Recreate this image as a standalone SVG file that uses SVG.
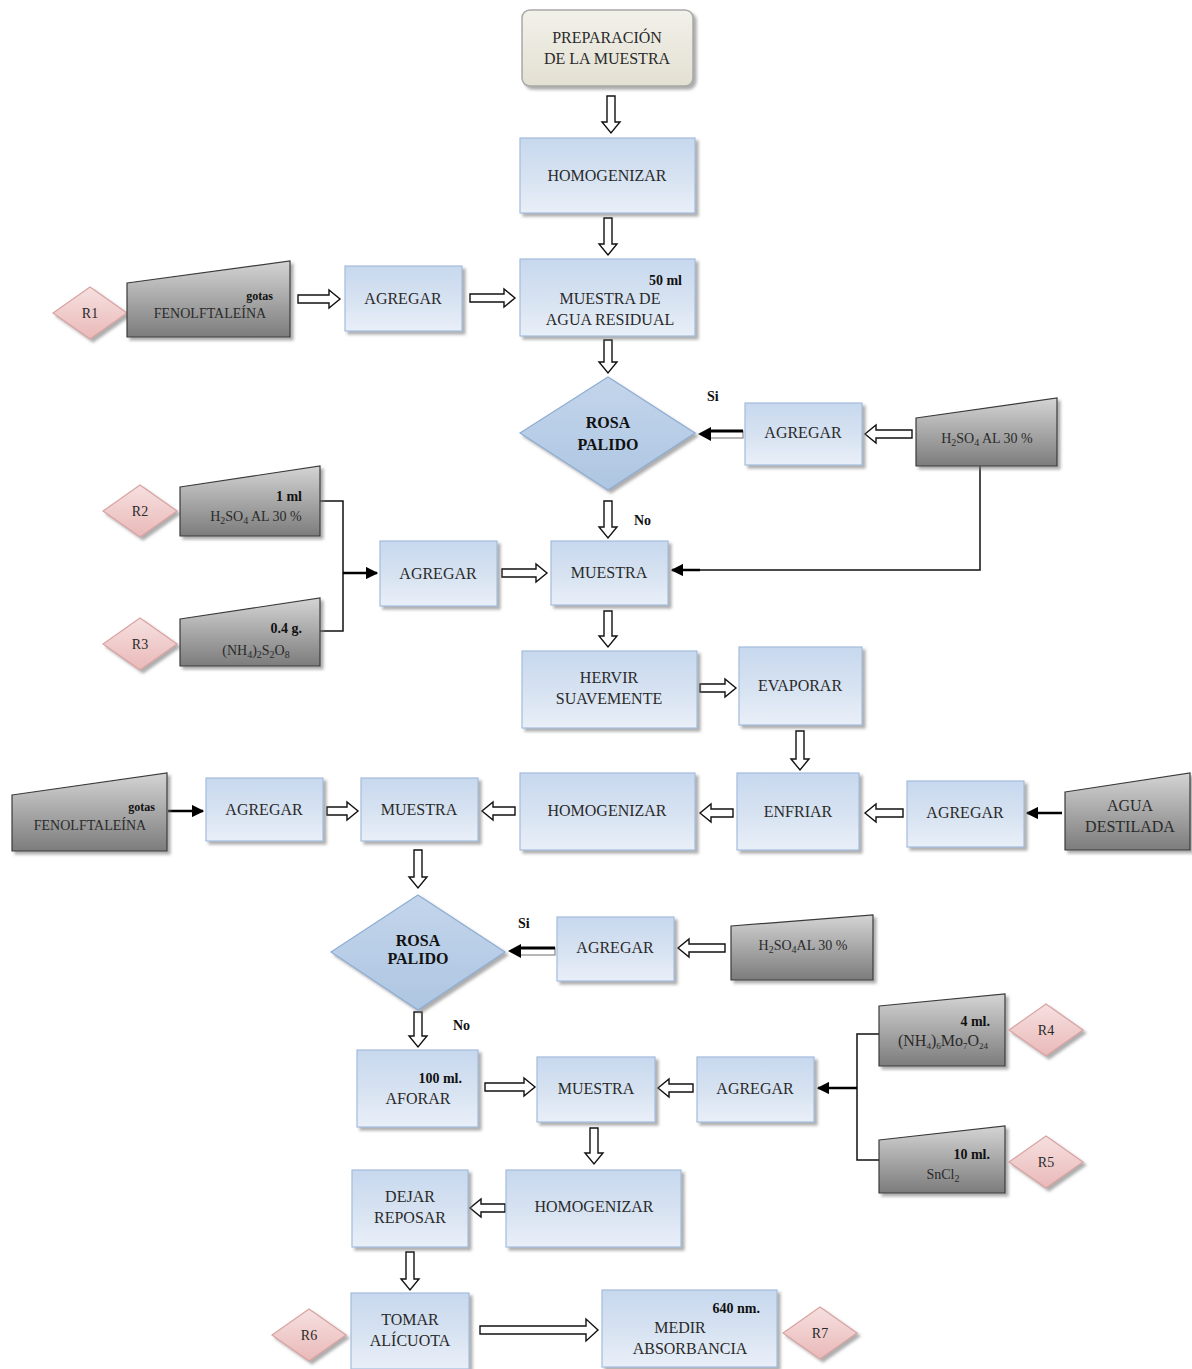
<svg xmlns="http://www.w3.org/2000/svg" width="1192" height="1369" viewBox="0 0 1192 1369">
<defs>
<linearGradient id="gBlue" x1="0" y1="0" x2="0" y2="1"><stop offset="0" stop-color="#c7d8ee"/><stop offset="0.5" stop-color="#d6e2f1"/><stop offset="1" stop-color="#e9eff8"/></linearGradient>
<linearGradient id="gGray" x1="0" y1="0" x2="0" y2="1"><stop offset="0" stop-color="#d4d4d4"/><stop offset="1" stop-color="#7c7c7c"/></linearGradient>
<linearGradient id="gPink" x1="0" y1="0" x2="0" y2="1"><stop offset="0" stop-color="#f6e0e0"/><stop offset="1" stop-color="#e9b9b8"/></linearGradient>
<linearGradient id="gDia" x1="0" y1="0" x2="0" y2="1"><stop offset="0" stop-color="#c3d5eb"/><stop offset="1" stop-color="#aec6e2"/></linearGradient>
<linearGradient id="gPrep" x1="0" y1="0" x2="0" y2="1"><stop offset="0" stop-color="#f2f1ea"/><stop offset="1" stop-color="#e3e0d2"/></linearGradient>
<filter id="sh" x="-10%" y="-10%" width="130%" height="140%"><feDropShadow dx="3" dy="3" stdDeviation="1.5" flood-color="#777" flood-opacity="0.6"/></filter>
<marker id="ah" viewBox="0 0 10 10" refX="9" refY="5" markerWidth="5" markerHeight="5" orient="auto"><path d="M0,0 L10,5 L0,10 Z" fill="#000"/></marker>
<style>
.box{fill:url(#gBlue);stroke:#a3bcdc;stroke-width:1.2;filter:url(#sh)}
.prep{fill:url(#gPrep);stroke:#a8a8a8;stroke-width:1.5;filter:url(#sh)}
.trap{fill:url(#gGray);stroke:#3a3a3a;stroke-width:1.2;filter:url(#sh)}
.rd{fill:url(#gPink);stroke:#d9a3a2;stroke-width:1.2;filter:url(#sh)}
.dia{fill:url(#gDia);stroke:#8fadd4;stroke-width:1.2;filter:url(#sh)}
.ha{fill:#fff;stroke:#111;stroke-width:1.4;stroke-linejoin:miter}
.ln{fill:none;stroke:#111;stroke-width:1.5}
.la{fill:none;stroke:#000;stroke-width:2.5;marker-end:url(#ah)}
text{font-family:"Liberation Serif","Times New Roman",serif;fill:#2a2a2a;font-size:16px}
.c{text-anchor:middle}
.e{text-anchor:end}
.b{font-weight:bold;fill:#111}
.s{font-size:14px}
.sm{font-size:12px}
</style>
</defs>

<g id="connectors">
<path class="ha" d="M607,96 L615,96 L615,122 L620,122 L611,133 L602,122 L607,122 Z"/>
<path class="ha" d="M604,218 L612,218 L612,244 L617,244 L608,255 L599,244 L604,244 Z"/>
<path class="ha" d="M604,340 L612,340 L612,362 L617,362 L608,373 L599,362 L604,362 Z"/>
<path class="ha" d="M604,501 L612,501 L612,527 L617,527 L608,538 L599,527 L604,527 Z"/>
<path class="ha" d="M604,611 L612,611 L612,636 L617,636 L608,647 L599,636 L604,636 Z"/>
<path class="ha" d="M796,731 L804,731 L804,759 L809,759 L800,770 L791,759 L796,759 Z"/>
<path class="ha" d="M414,850 L422,850 L422,877 L427,877 L418,888 L409,877 L414,877 Z"/>
<path class="ha" d="M414,1012 L422,1012 L422,1036 L427,1036 L418,1047 L409,1036 L414,1036 Z"/>
<path class="ha" d="M590,1128 L598,1128 L598,1153 L603,1153 L594,1164 L585,1153 L590,1153 Z"/>
<path class="ha" d="M406,1252 L414,1252 L414,1279 L419,1279 L410,1290 L401,1279 L406,1279 Z"/>
<path class="ha" d="M298,295 L329,295 L329,290 L340,299 L329,308 L329,303 L298,303 Z"/>
<path class="ha" d="M470,294 L504,294 L504,289 L515,298 L504,307 L504,302 L470,302 Z"/>
<path class="ha" d="M502,569 L536,569 L536,564 L547,573 L536,582 L536,577 L502,577 Z"/>
<path class="ha" d="M700,684 L725,684 L725,679 L736,688 L725,697 L725,692 L700,692 Z"/>
<path class="ha" d="M327,807 L347,807 L347,802 L358,811 L347,820 L347,815 L327,815 Z"/>
<path class="ha" d="M485,1083 L524,1083 L524,1078 L535,1087 L524,1096 L524,1091 L485,1091 Z"/>
<path class="ha" d="M480,1326 L586,1326 L586,1319 L598,1330 L586,1341 L586,1334 L480,1334 Z"/>
<path class="ha" d="M912,430 L876,430 L876,425 L865,434 L876,443 L876,438 L912,438 Z"/>
<path class="ha" d="M733,809 L711,809 L711,804 L700,813 L711,822 L711,817 L733,817 Z"/>
<path class="ha" d="M903,809 L876,809 L876,804 L865,813 L876,822 L876,817 L903,817 Z"/>
<path class="ha" d="M515,807 L493,807 L493,802 L482,811 L493,820 L493,815 L515,815 Z"/>
<path class="ha" d="M725,944 L689,944 L689,939 L678,948 L689,957 L689,952 L725,952 Z"/>
<path class="ha" d="M693,1084 L669,1084 L669,1079 L658,1088 L669,1097 L669,1092 L693,1092 Z"/>
<path class="ha" d="M505,1204 L481,1204 L481,1199 L470,1208 L481,1217 L481,1212 L505,1212 Z"/>
<rect x="710" y="431" width="33" height="7" fill="#fff" stroke="#888" stroke-width="1.2"/>
<line x1="710" y1="431" x2="743" y2="431" stroke="#000" stroke-width="3"/>
<path d="M698,434 L711,427 L711,441 Z" fill="#000"/>
<rect x="520" y="948" width="35" height="7" fill="#fff" stroke="#888" stroke-width="1.2"/>
<line x1="520" y1="948" x2="555" y2="948" stroke="#000" stroke-width="3"/>
<path d="M508,951 L521,944 L521,958 Z" fill="#000"/>
<polyline class="ln" points="980,466 980,570 680,570"/>
<line class="la" x1="700" y1="570" x2="672" y2="570"/>
<polyline class="ln" points="320,501 343,501 343,631 320,631"/>
<line class="la" x1="343" y1="573" x2="377" y2="573"/>
<line class="la" x1="168" y1="811" x2="203" y2="811"/>
<line class="la" x1="1062" y1="813" x2="1027" y2="813"/>
<polyline class="ln" points="880,1034 857,1034 857,1160 880,1160"/>
<line class="la" x1="857" y1="1088" x2="818" y2="1088"/>
</g>

<g id="n_prep"><rect class="prep" x="522" y="10" width="171" height="76" rx="8"/><text class="c" x="607" y="43">PREPARACIÓN</text><text class="c" x="607" y="64">DE LA MUESTRA</text></g>
<g id="n_homog1"><rect class="box" x="520" y="138" width="175" height="75"/><text class="c" x="607" y="181">HOMOGENIZAR</text></g>
<g id="n_muestraAR"><rect class="box" x="520" y="259" width="175" height="77"/><text class="e b s" x="682" y="285">50 ml</text><text class="c" x="610" y="304">MUESTRA DE</text><text class="c" x="610" y="325">AGUA RESIDUAL</text></g>
<g id="n_R1"><polygon class="rd" points="90,287 127,313 90,339 53,313"/><text class="c s" x="90" y="318">R1</text></g>
<g id="n_fenol1"><path class="trap" d="M127,283 L290,261 L290,337 L127,337 Z"/><text class="e b sm" x="273" y="300">gotas</text><text class="c s" x="210" y="318">FENOLFTALEÍNA</text></g>
<g id="n_agregar1"><rect class="box" x="345" y="266" width="117" height="65"/><text class="c" x="403" y="304">AGREGAR</text></g>
<g id="n_rosa1"><polygon class="dia" points="608,377 695,433 608,490 520,433"/><text class="c b" x="608" y="428">ROSA</text><text class="c b" x="608" y="450">PALIDO</text></g>
<text class="b s" x="707" y="401">Si</text>
<g id="n_agregar2"><rect class="box" x="745" y="403" width="117" height="62"/><text class="c" x="803" y="438">AGREGAR</text></g>
<g id="n_h2so4a"><path class="trap" d="M916,418 L1057,398 L1057,466 L916,466 Z"/><text class="c s" x="987" y="443">H<tspan font-size="10" dy="3">2</tspan><tspan dy="-3">SO</tspan><tspan font-size="10" dy="3">4</tspan><tspan dy="-3"> AL 30 %</tspan></text></g>
<g id="n_R2"><polygon class="rd" points="140,485 177,511 140,537 103,511"/><text class="c s" x="140" y="516">R2</text></g>
<g id="n_h2so4b"><path class="trap" d="M180,487 L320,466 L320,536 L180,536 Z"/><text class="e b s" x="302" y="501">1 ml</text><text class="c s" x="256" y="521">H<tspan font-size="10" dy="3">2</tspan><tspan dy="-3">SO</tspan><tspan font-size="10" dy="3">4</tspan><tspan dy="-3"> AL 30 %</tspan></text></g>
<g id="n_R3"><polygon class="rd" points="140,618 177,644 140,670 103,644"/><text class="c s" x="140" y="649">R3</text></g>
<g id="n_persulf"><path class="trap" d="M180,619 L320,598 L320,666 L180,666 Z"/><text class="e b s" x="302" y="633">0.4 g.</text><text class="c s" x="256" y="655">(NH<tspan font-size="10" dy="3">4</tspan><tspan dy="-3">)</tspan><tspan font-size="10" dy="3">2</tspan><tspan dy="-3">S</tspan><tspan font-size="10" dy="3">2</tspan><tspan dy="-3">O</tspan><tspan font-size="10" dy="3">8</tspan></text></g>
<g id="n_agregar3"><rect class="box" x="380" y="541" width="117" height="65"/><text class="c" x="438" y="579">AGREGAR</text></g>
<text class="b s" x="634" y="525">No</text>
<g id="n_muestra1"><rect class="box" x="551" y="541" width="117" height="64"/><text class="c" x="609" y="578">MUESTRA</text></g>
<g id="n_hervir"><rect class="box" x="522" y="651" width="175" height="77"/><text class="c" x="609" y="683">HERVIR</text><text class="c" x="609" y="704">SUAVEMENTE</text></g>
<g id="n_evaporar"><rect class="box" x="739" y="647" width="123" height="78"/><text class="c" x="800" y="691">EVAPORAR</text></g>
<g id="n_enfriar"><rect class="box" x="737" y="773" width="122" height="77"/><text class="c" x="798" y="817">ENFRIAR</text></g>
<g id="n_agregar4"><rect class="box" x="907" y="781" width="117" height="66"/><text class="c" x="965" y="818">AGREGAR</text></g>
<g id="n_agua"><path class="trap" d="M1065,792 L1190,773 L1190,850 L1065,850 Z"/><text class="c" x="1130" y="811">AGUA</text><text class="c" x="1130" y="832">DESTILADA</text></g>
<g id="n_homog2"><rect class="box" x="520" y="773" width="175" height="77"/><text class="c" x="607" y="816">HOMOGENIZAR</text></g>
<g id="n_muestra2"><rect class="box" x="361" y="778" width="117" height="63"/><text class="c" x="419" y="815">MUESTRA</text></g>
<g id="n_agregar5"><rect class="box" x="206" y="778" width="117" height="63"/><text class="c" x="264" y="815">AGREGAR</text></g>
<g id="n_fenol2"><path class="trap" d="M12,795 L167,773 L167,851 L12,851 Z"/><text class="e b sm" x="155" y="811">gotas</text><text class="c s" x="90" y="830">FENOLFTALEÍNA</text></g>
<g id="n_rosa2"><polygon class="dia" points="418,895 505,952 418,1010 331,952"/><text class="c b" font-size="13" x="418" y="946">ROSA</text><text class="c b" font-size="13" x="418" y="964">PALIDO</text></g>
<text class="b s" x="518" y="928">Si</text>
<g id="n_agregar6"><rect class="box" x="557" y="917" width="117" height="64"/><text class="c" x="615" y="953">AGREGAR</text></g>
<g id="n_h2so4c"><path class="trap" d="M731,926 L873,915 L873,980 L731,980 Z"/><text class="c s" x="803" y="950">H<tspan font-size="10" dy="3">2</tspan><tspan dy="-3">SO</tspan><tspan font-size="10" dy="3">4</tspan><tspan dy="-3">AL 30 %</tspan></text></g>
<text class="b s" x="453" y="1030">No</text>
<g id="n_aforar"><rect class="box" x="357" y="1050" width="121" height="77"/><text class="e b s" x="462" y="1083">100 ml.</text><text class="c" x="418" y="1104">AFORAR</text></g>
<g id="n_muestra3"><rect class="box" x="537" y="1057" width="118" height="65"/><text class="c" x="596" y="1094">MUESTRA</text></g>
<g id="n_agregar7"><rect class="box" x="697" y="1057" width="117" height="65"/><text class="c" x="755" y="1094">AGREGAR</text></g>
<g id="n_molib"><path class="trap" d="M879,1006 L1005,994 L1005,1066 L879,1066 Z"/><text class="e b s" x="990" y="1026">4 ml.</text><text class="c" font-size="13" x="943" y="1046">(NH<tspan font-size="9" dy="3">4</tspan><tspan dy="-3">)</tspan><tspan font-size="9" dy="3">6</tspan><tspan dy="-3">Mo</tspan><tspan font-size="9" dy="3">7</tspan><tspan dy="-3">O</tspan><tspan font-size="9" dy="3">24</tspan></text></g>
<g id="n_R4"><polygon class="rd" points="1046,1004 1083,1030 1046,1056 1009,1030"/><text class="c s" x="1046" y="1035">R4</text></g>
<g id="n_sncl"><path class="trap" d="M879,1140 L1005,1126 L1005,1193 L879,1193 Z"/><text class="e b s" x="990" y="1159">10 ml.</text><text class="c s" x="943" y="1179">SnCl<tspan font-size="10" dy="3">2</tspan></text></g>
<g id="n_R5"><polygon class="rd" points="1046,1136 1083,1162 1046,1188 1009,1162"/><text class="c s" x="1046" y="1167">R5</text></g>
<g id="n_homog3"><rect class="box" x="506" y="1170" width="175" height="77"/><text class="c" x="594" y="1212">HOMOGENIZAR</text></g>
<g id="n_dejar"><rect class="box" x="352" y="1170" width="116" height="77"/><text class="c" x="410" y="1202">DEJAR</text><text class="c" x="410" y="1223">REPOSAR</text></g>
<g id="n_tomar"><rect class="box" x="351" y="1293" width="118" height="76"/><text class="c" x="410" y="1325">TOMAR</text><text class="c" x="410" y="1346">ALÍCUOTA</text></g>
<g id="n_R6"><polygon class="rd" points="309,1309 346,1335 309,1361 272,1335"/><text class="c s" x="309" y="1340">R6</text></g>
<g id="n_medir"><rect class="box" x="602" y="1290" width="175" height="77"/><text class="e b s" x="760" y="1313">640 nm.</text><text class="c" x="680" y="1333">MEDIR</text><text class="c" x="690" y="1354">ABSORBANCIA</text></g>
<g id="n_R7"><polygon class="rd" points="820,1307 857,1333 820,1359 783,1333"/><text class="c s" x="820" y="1338">R7</text></g>
</svg>
